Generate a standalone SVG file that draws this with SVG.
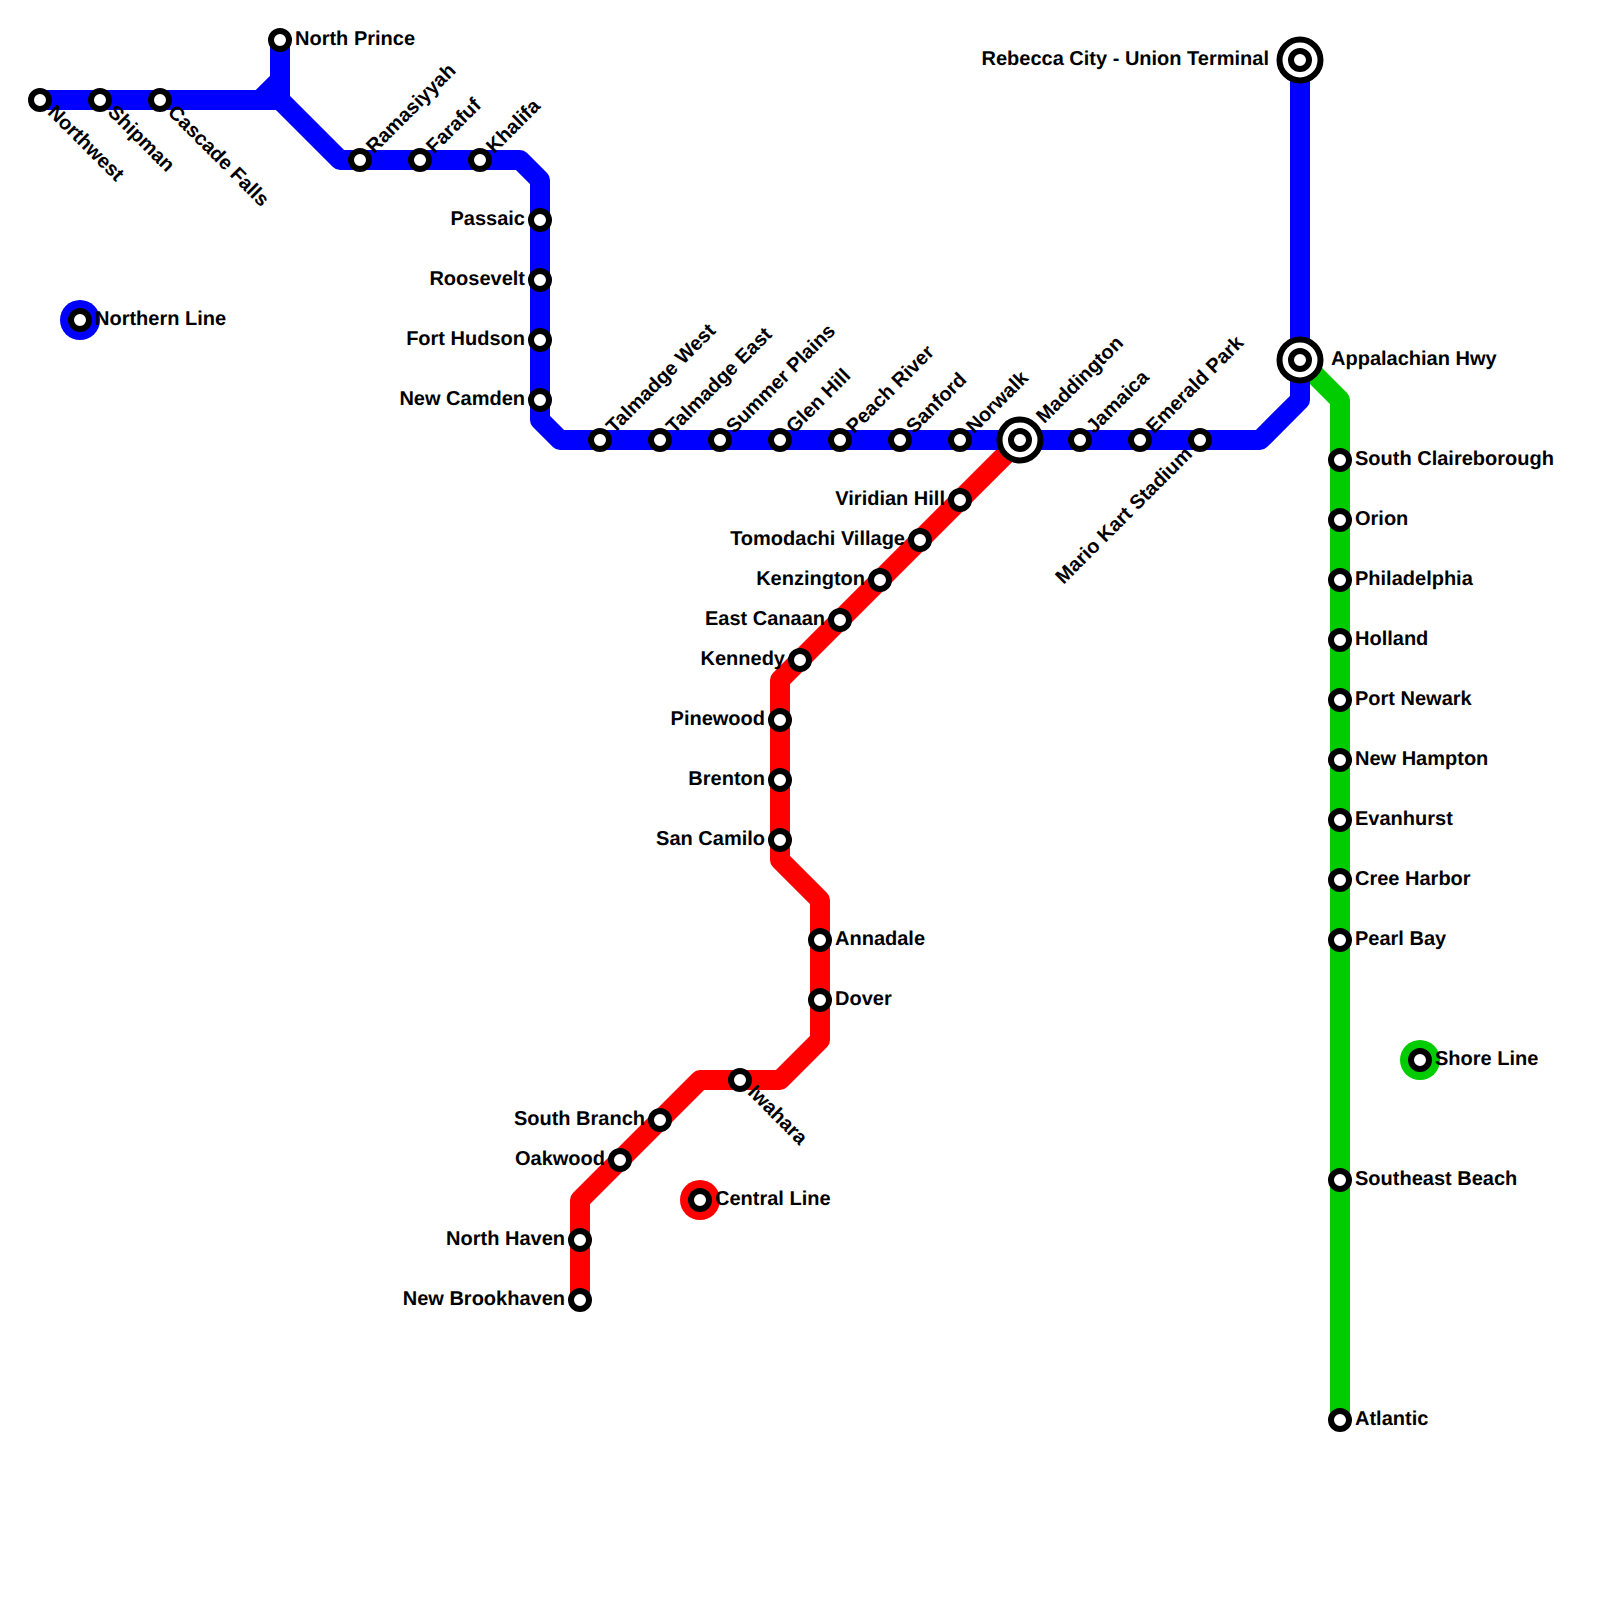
<svg xmlns="http://www.w3.org/2000/svg" width="1600" height="1600" viewBox="0 0 1600 1600">
<style>
.bg{fill:#fff}
.ln{fill:none;stroke-width:20;stroke-linejoin:round}
.b{stroke:#0000ff}.r{stroke:#ff0000}.g{stroke:#00cc00}
.st{fill:#fff;stroke:#000;stroke-width:6}
text{font-family:"Liberation Sans",Arial,sans-serif;font-weight:700;font-size:20px;fill:#000;text-rendering:geometricPrecision}
.e{text-anchor:end}
</style>
<defs>
<circle id="s" class="st" r="9"/>
<g id="x"><circle class="st" r="20.5"/><circle class="st" r="9"/></g>
</defs>
<rect class="bg" width="1600" height="1600"/>
<g id="connectors">
<path class="ln g" d="M1300 360L1340 400V1420"/>
<path class="ln r" d="M1020 440L780 680V860L820 900V1040L780 1080H700L580 1200V1300"/>
<path class="ln b" d="M40 100H280L340 160H520L540 180V420L560 440H1260L1300 400V60"/>
<path class="ln b" d="M280 40V100M280 80L260 100"/>
</g>
<g id="legend-northern"><circle cx="80" cy="320" r="20" fill="#0000ff"/><use href="#s" x="80" y="320"/><text x="95" y="325">Northern Line</text></g>
<g id="legend-central"><circle cx="700" cy="1200" r="20" fill="#ff0000"/><use href="#s" x="700" y="1200"/><text x="715" y="1205">Central Line</text></g>
<g id="legend-shore"><circle cx="1420" cy="1060" r="20" fill="#00cc00"/><use href="#s" x="1420" y="1060"/><text x="1435" y="1065">Shore Line</text></g>

<g id="n-northwest"><use href="#s" x="40" y="100"/><text transform="translate(50 110) rotate(45)" x="0" y="4.5">Northwest</text></g>
<g id="n-shipman"><use href="#s" x="100" y="100"/><text transform="translate(110 110) rotate(45)" x="0" y="4.5">Shipman</text></g>
<g id="n-cascade"><use href="#s" x="160" y="100"/><text transform="translate(170 110) rotate(45)" x="0" y="4.5">Cascade Falls</text></g>
<g id="n-northprince"><use href="#s" x="280" y="40"/><text x="295" y="45">North Prince</text></g>
<g id="n-ramasiyyah"><use href="#s" x="360" y="160"/><text transform="translate(370 150) rotate(-45)" x="0" y="6">Ramasiyyah</text></g>
<g id="n-farafuf"><use href="#s" x="420" y="160"/><text transform="translate(430 150) rotate(-45)" x="0" y="6">Farafuf</text></g>
<g id="n-khalifa"><use href="#s" x="480" y="160"/><text transform="translate(490 150) rotate(-45)" x="0" y="6">Khalifa</text></g>
<g id="n-passaic"><use href="#s" x="540" y="220"/><text class="e" x="525" y="225">Passaic</text></g>
<g id="n-roosevelt"><use href="#s" x="540" y="280"/><text class="e" x="525" y="285">Roosevelt</text></g>
<g id="n-forthudson"><use href="#s" x="540" y="340"/><text class="e" x="525" y="345">Fort Hudson</text></g>
<g id="n-newcamden"><use href="#s" x="540" y="400"/><text class="e" x="525" y="405">New Camden</text></g>
<g id="n-talmadgew"><use href="#s" x="600" y="440"/><text transform="translate(610 430) rotate(-45)" x="0" y="6">Talmadge West</text></g>
<g id="n-talmadgee"><use href="#s" x="660" y="440"/><text transform="translate(670 430) rotate(-45)" x="0" y="6">Talmadge East</text></g>
<g id="n-summer"><use href="#s" x="720" y="440"/><text transform="translate(730 430) rotate(-45)" x="0" y="6">Summer Plains</text></g>
<g id="n-glenhill"><use href="#s" x="780" y="440"/><text transform="translate(790 430) rotate(-45)" x="0" y="6">Glen Hill</text></g>
<g id="n-peachriver"><use href="#s" x="840" y="440"/><text transform="translate(850 430) rotate(-45)" x="0" y="6">Peach River</text></g>
<g id="n-sanford"><use href="#s" x="900" y="440"/><text transform="translate(910 430) rotate(-45)" x="0" y="6">Sanford</text></g>
<g id="n-norwalk"><use href="#s" x="960" y="440"/><text transform="translate(970 430) rotate(-45)" x="0" y="6">Norwalk</text></g>
<g id="n-maddington"><use href="#x" x="1020" y="440"/><text transform="translate(1040 420) rotate(-45)" x="0" y="6">Maddington</text></g>
<g id="n-jamaica"><use href="#s" x="1080" y="440"/><text transform="translate(1090 430) rotate(-45)" x="0" y="6">Jamaica</text></g>
<g id="n-emerald"><use href="#s" x="1140" y="440"/><text transform="translate(1150 430) rotate(-45)" x="0" y="6">Emerald Park</text></g>
<g id="n-mariokart"><use href="#s" x="1200" y="440"/><text class="e" transform="translate(1189 451) rotate(-45)" x="0" y="6">Mario Kart Stadium</text></g>
<g id="n-appalachian"><use href="#x" x="1300" y="360"/><text x="1331" y="365">Appalachian Hwy</text></g>
<g id="n-rebecca"><use href="#x" x="1300" y="60"/><text class="e" x="1269" y="65">Rebecca City - Union Terminal</text></g>

<g id="n-viridian"><use href="#s" x="960" y="500"/><text class="e" x="945" y="505">Viridian Hill</text></g>
<g id="n-tomodachi"><use href="#s" x="920" y="540"/><text class="e" x="905" y="545">Tomodachi Village</text></g>
<g id="n-kenzington"><use href="#s" x="880" y="580"/><text class="e" x="865" y="585">Kenzington</text></g>
<g id="n-eastcanaan"><use href="#s" x="840" y="620"/><text class="e" x="825" y="625">East Canaan</text></g>
<g id="n-kennedy"><use href="#s" x="800" y="660"/><text class="e" x="785" y="665">Kennedy</text></g>
<g id="n-pinewood"><use href="#s" x="780" y="720"/><text class="e" x="765" y="725">Pinewood</text></g>
<g id="n-brenton"><use href="#s" x="780" y="780"/><text class="e" x="765" y="785">Brenton</text></g>
<g id="n-sancamilo"><use href="#s" x="780" y="840"/><text class="e" x="765" y="845">San Camilo</text></g>
<g id="n-annadale"><use href="#s" x="820" y="940"/><text x="835" y="945">Annadale</text></g>
<g id="n-dover"><use href="#s" x="820" y="1000"/><text x="835" y="1005">Dover</text></g>
<g id="n-iwahara"><use href="#s" x="740" y="1080"/><text transform="translate(750 1090) rotate(45)" x="0" y="4.5">Iwahara</text></g>
<g id="n-southbranch"><use href="#s" x="660" y="1120"/><text class="e" x="645" y="1125">South Branch</text></g>
<g id="n-oakwood"><use href="#s" x="620" y="1160"/><text class="e" x="605" y="1165">Oakwood</text></g>
<g id="n-northhaven"><use href="#s" x="580" y="1240"/><text class="e" x="565" y="1245">North Haven</text></g>
<g id="n-newbrookhaven"><use href="#s" x="580" y="1300"/><text class="e" x="565" y="1305">New Brookhaven</text></g>

<g id="n-southclaire"><use href="#s" x="1340" y="460"/><text x="1355" y="465">South Claireborough</text></g>
<g id="n-orion"><use href="#s" x="1340" y="520"/><text x="1355" y="525">Orion</text></g>
<g id="n-philadelphia"><use href="#s" x="1340" y="580"/><text x="1355" y="585">Philadelphia</text></g>
<g id="n-holland"><use href="#s" x="1340" y="640"/><text x="1355" y="645">Holland</text></g>
<g id="n-portnewark"><use href="#s" x="1340" y="700"/><text x="1355" y="705">Port Newark</text></g>
<g id="n-newhampton"><use href="#s" x="1340" y="760"/><text x="1355" y="765">New Hampton</text></g>
<g id="n-evanhurst"><use href="#s" x="1340" y="820"/><text x="1355" y="825">Evanhurst</text></g>
<g id="n-creeharbor"><use href="#s" x="1340" y="880"/><text x="1355" y="885">Cree Harbor</text></g>
<g id="n-pearlbay"><use href="#s" x="1340" y="940"/><text x="1355" y="945">Pearl Bay</text></g>
<g id="n-southeast"><use href="#s" x="1340" y="1180"/><text x="1355" y="1185">Southeast Beach</text></g>
<g id="n-atlantic"><use href="#s" x="1340" y="1420"/><text x="1355" y="1425">Atlantic</text></g>
</svg>
